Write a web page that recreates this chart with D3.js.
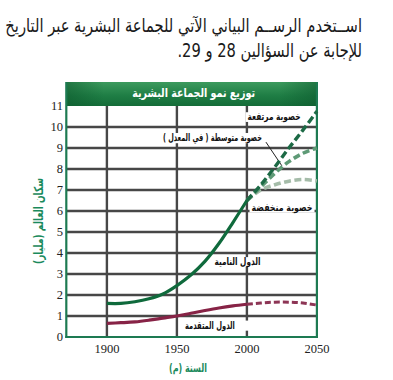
<!DOCTYPE html>
<html><head><meta charset="utf-8">
<script src="https://cdn.jsdelivr.net/npm/d3@7"></script>
<style>html,body{margin:0;padding:0;background:#fff;}svg{display:block;}</style>
</head><body>
<svg id="c" width="393" height="380"></svg>
<script>
const introLines = ["اســتخدم الرســم البياني الآتي للجماعة البشرية عبر التاريخ", "للإجابة عن السؤالين 28 و 29."];
const chartTitle = "توزيع نمو الجماعة البشرية";
const yTitle = "سكان العالم (مليار)";
const xTitle = "السنة (م)";
const xTicks = [1900, 1950, 2000, 2050];
const yTicks = [0,1,2,3,4,5,6,7,8,9,10,11];
const gridYears = [1900, 1950, 2000];
const gridValues = [1,2,3,4,5,6,7,8,9,10];

const years = [1900,1910,1920,1930,1940,1950,1960,1970,1980,1990,2000];
const developing = [1.6,1.6,1.68,1.82,2.05,2.45,2.95,3.6,4.45,5.45,6.5];
const developed = [0.65,0.68,0.72,0.8,0.9,1.0,1.13,1.26,1.38,1.48,1.56];
const projYears = [2000,2010,2020,2030,2040,2050];
const highFert = [6.5,7.25,8.1,9.0,9.85,10.75];
const medFert = [6.5,7.15,7.8,8.35,8.75,9.0];
const lowFert = [6.5,7.0,7.25,7.42,7.5,7.43];
const developedProj = [1.56,1.62,1.66,1.66,1.62,1.52];

const labels = [
  {text:"خصوبة مرتفعة", year:2019.4, value:10.5, w:53},
  {text:"خصوبة متوسطة ( في المعدل )", year:1975.4, value:9.5, w:99},
  {text:"خصوبة منخفضة", year:2025.1, value:6.21, w:61},
  {text:"الدول النامية", year:1993.3, value:3.6, w:46},
  {text:"الدول المتقدمة", year:1973.6, value:0.57, w:50, padR:14}
];

const svg = d3.select("#c");
const x = d3.scaleLinear().domain([1871, 2050]).range([66.3, 316.9]);
const y = d3.scaleLinear().domain([0, 11]).range([337, 106]);
const arab = "'DejaVu Sans', sans-serif";

// text squeezed horizontally to a target width, keeping its height
function squeezed(parent, txt, px, py, size, target, anchor, opts){
  const g = parent.append("g");
  const t = g.append("text").attr("x", 0).attr("y", 0).attr("direction","rtl").attr("text-anchor", anchor)
    .attr("font-family", arab).attr("font-size", size).text(txt);
  if (opts.bold) t.attr("font-weight","bold");
  if (opts.central) t.attr("dominant-baseline","central");
  t.attr("fill", opts.fill || "#111");
  const len = t.node().getComputedTextLength();
  const s = len > 0 ? target / len : 1;
  g.attr("transform", `translate(${px},${py})${opts.rot ? " rotate(" + opts.rot + ")" : ""} scale(${s.toFixed(4)},1)`);
  return {g, t, s};
}

// intro paragraph
const intro = svg.append("g");
const r1 = squeezed(intro, introLines[0], 362, 32, 19, 357, "start", {fill:"#1a1a1a"});
const g2 = intro.append("g").attr("transform", `translate(362,57) scale(${r1.s.toFixed(4)},1)`);
g2.append("text").attr("direction","rtl").attr("text-anchor","start").attr("font-family", arab)
  .attr("font-size", 19).attr("fill","#1a1a1a").text(introLines[1]);

// header
const defs = svg.append("defs");
const grad = defs.append("linearGradient").attr("id","hg").attr("x1",0).attr("y1",0).attr("x2",0).attr("y2",1);
grad.append("stop").attr("offset","0%").attr("stop-color","#3d9a5e");
grad.append("stop").attr("offset","55%").attr("stop-color","#1f7e45");
grad.append("stop").attr("offset","100%").attr("stop-color","#146c38");
const grad2 = defs.append("linearGradient").attr("id","hg2").attr("x1",0).attr("y1",0).attr("x2",1).attr("y2",0);
grad2.append("stop").attr("offset","0%").attr("stop-color","#0d5a2e").attr("stop-opacity",0.55);
grad2.append("stop").attr("offset","15%").attr("stop-color","#0d5a2e").attr("stop-opacity",0);
grad2.append("stop").attr("offset","85%").attr("stop-color","#0d5a2e").attr("stop-opacity",0);
grad2.append("stop").attr("offset","100%").attr("stop-color","#0d5a2e").attr("stop-opacity",0.55);

const x0 = x(1871), x1 = x(2050);
svg.append("rect").attr("x", x0).attr("y", 82).attr("width", x1 - x0).attr("height", y(11) - 82).attr("fill","url(#hg)");
svg.append("rect").attr("x", x0).attr("y", 82).attr("width", x1 - x0).attr("height", y(11) - 82).attr("fill","url(#hg2)");
squeezed(svg, chartTitle, (x0 + x1)/2 + 2, 93.5, 12.5, 123, "middle", {bold:true, central:true, fill:"#fff"});

// grid
const grid = svg.append("g").attr("stroke","#474747").attr("stroke-width",2.4);
grid.selectAll("line.h").data(gridValues).join("line").attr("class","h")
  .attr("x1", x0).attr("x2", x1).attr("y1", d => y(d)).attr("y2", d => y(d));
grid.selectAll("line.v").data(gridYears).join("line").attr("class","v")
  .attr("x1", d => x(d)).attr("x2", d => x(d)).attr("y1", y(11)).attr("y2", y(0));

// labels with white background
const lg = svg.append("g");
labels.forEach(L => {
  const cx = x(L.year), cy = y(L.value);
  const bg = lg.append("rect").attr("fill","#fff");
  const r = squeezed(lg, L.text, cx, cy, 10.5, L.w, "middle", {bold:true, central:true, fill:"#111"});
  const b = r.t.node().getBBox();
  bg.attr("x", cx - L.w/2 - 2).attr("y", cy + b.y + 1.5).attr("width", L.w + 4 + (L.padR||0)).attr("height", b.height - 3);
});
// leader line for medium fertility
svg.append("line").attr("x1", x(2013.6)).attr("y1", y(9.28)).attr("x2", x(2025)).attr("y2", y(8.15))
  .attr("stroke","#222").attr("stroke-width",1);

// frame
const frame = svg.append("g").attr("stroke","#1d7a52").attr("stroke-width",2.2).attr("fill","none");
frame.append("line").attr("x1", x0).attr("x2", x0).attr("y1", 82).attr("y2", y(0) + 1);
frame.append("line").attr("x1", x1).attr("x2", x1).attr("y1", 82).attr("y2", y(0) + 1);
frame.append("line").attr("x1", x0 - 1).attr("x2", x1 + 1).attr("y1", y(0)).attr("y2", y(0));

// curves
const line = d3.line().x(d => x(d[0])).y(d => y(d[1])).curve(d3.curveCatmullRom.alpha(0.5));
const zip = (a, b) => a.map((v, i) => [v, b[i]]);
const curves = svg.append("g").attr("fill","none").attr("stroke-linecap","butt");
curves.append("path").attr("d", line(zip(projYears, lowFert))).attr("stroke","#a5bca9").attr("stroke-width",3.6).attr("stroke-dasharray","7,3.5");
curves.append("path").attr("d", line(zip(projYears, medFert))).attr("stroke","#5e9a76").attr("stroke-width",3.6).attr("stroke-dasharray","7,3.5");
curves.append("path").attr("d", line(zip(projYears, highFert))).attr("stroke","#1c6a45").attr("stroke-width",3.4).attr("stroke-dasharray","7.5,3.5");
curves.append("path").attr("d", line(zip(years, developing))).attr("stroke","#0f6a3c").attr("stroke-width",3.2);
curves.append("path").attr("d", line(zip(projYears, developedProj))).attr("stroke","#8d3555").attr("stroke-width",3).attr("stroke-dasharray","6,3");
curves.append("path").attr("d", line(zip(years, developed))).attr("stroke","#872346").attr("stroke-width",3.2);

// tick labels
const serif = "'Liberation Serif', 'Times New Roman', serif";
svg.append("g").selectAll("text").data(yTicks).join("text")
  .attr("x", 63).attr("y", d => y(d)).attr("dominant-baseline","central").attr("text-anchor","end")
  .attr("font-family", serif).attr("font-size", 12.5).attr("fill","#222").text(d => d);
svg.append("g").selectAll("text").data(xTicks).join("text")
  .attr("x", d => x(d)).attr("y", 349).attr("dominant-baseline","central").attr("text-anchor","middle")
  .attr("font-family", serif).attr("font-size", 12.5).attr("fill","#222").text(d => d);

// axis titles
squeezed(svg, yTitle, 39, 221, 12.5, 86, "middle", {bold:true, central:true, fill:"#1a8a5c", rot:-90});
squeezed(svg, xTitle, 188, 368, 11.5, 38, "middle", {bold:true, central:true, fill:"#1a8a5c"});
</script>
</body></html>
